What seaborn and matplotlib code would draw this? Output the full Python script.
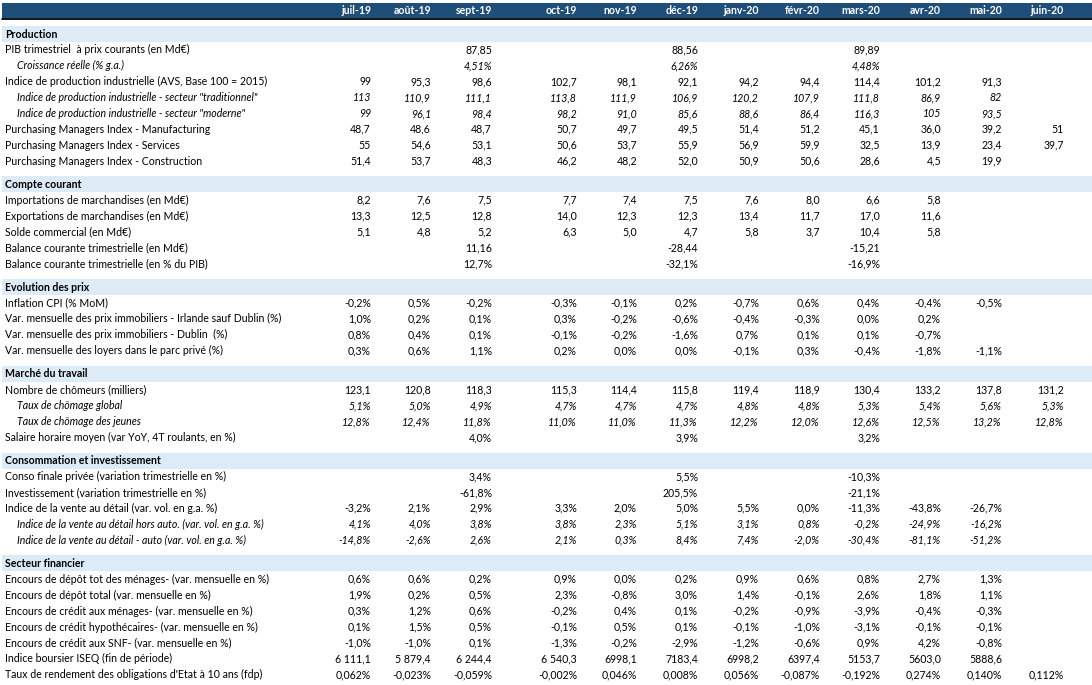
import matplotlib
matplotlib.use("Agg")
import matplotlib.pyplot as plt
from matplotlib import font_manager
import seaborn as sns

# column headers (months)
months = ["juil-19", "août-19", "sept-19", "oct-19", "nov-19", "déc-19",
          "janv-20", "févr-20", "mars-20", "avr-20", "mai-20", "juin-20"]

sections = ["Production", "Compte courant", "Evolution des prix",
            "Marché du travail", "Consommation et investissement",
            "Secteur financier"]

# --- Production
production_labels = [
    "PIB trimestriel  à prix courants (en Md€)",
    "Croissance réelle (% g.a.)",
    "Indice de production industrielle (AVS, Base 100 = 2015)",
    "Indice de production industrielle - secteur \"traditionnel\"",
    "Indice de production industrielle - secteur \"moderne\"",
    "Purchasing Managers Index - Manufacturing",
    "Purchasing Managers Index - Services",
    "Purchasing Managers Index - Construction",
]
production_italic = [False, True, False, True, True, False, False, False]
production_values = [
    ["", "", "87,85", "", "", "88,56", "", "", "89,89", "", "", ""],
    ["", "", "4,51%", "", "", "6,26%", "", "", "4,48%", "", "", ""],
    ["99", "95,3", "98,6", "102,7", "98,1", "92,1", "94,2", "94,4", "114,4", "101,2", "91,3", ""],
    ["113", "110,9", "111,1", "113,8", "111,9", "106,9", "120,2", "107,9", "111,8", "86,9", "82", ""],
    ["99", "96,1", "98,4", "98,2", "91,0", "85,6", "88,6", "86,4", "116,3", "105", "93,5", ""],
    ["48,7", "48,6", "48,7", "50,7", "49,7", "49,5", "51,4", "51,2", "45,1", "36,0", "39,2", "51"],
    ["55", "54,6", "53,1", "50,6", "53,7", "55,9", "56,9", "59,9", "32,5", "13,9", "23,4", "39,7"],
    ["51,4", "53,7", "48,3", "46,2", "48,2", "52,0", "50,9", "50,6", "28,6", "4,5", "19,9", ""],
]

# --- Compte courant
compte_labels = [
    "Importations de marchandises (en Md€)",
    "Exportations de marchandises (en Md€)",
    "Solde commercial (en Md€)",
    "Balance courante trimestrielle (en Md€)",
    "Balance courante trimestrielle (en % du PIB)",
]
compte_italic = [False] * 5
compte_values = [
    ["8,2", "7,6", "7,5", "7,7", "7,4", "7,5", "7,6", "8,0", "6,6", "5,8", "", ""],
    ["13,3", "12,5", "12,8", "14,0", "12,3", "12,3", "13,4", "11,7", "17,0", "11,6", "", ""],
    ["5,1", "4,8", "5,2", "6,3", "5,0", "4,7", "5,8", "3,7", "10,4", "5,8", "", ""],
    ["", "", "11,16", "", "", "-28,44", "", "", "-15,21", "", "", ""],
    ["", "", "12,7%", "", "", "-32,1%", "", "", "-16,9%", "", "", ""],
]

# --- Evolution des prix
prix_labels = [
    "Inflation CPI (% MoM)",
    "Var. mensuelle des prix immobiliers - Irlande sauf Dublin (%)",
    "Var. mensuelle des prix immobiliers - Dublin  (%)",
    "Var. mensuelle des loyers dans le parc privé (%)",
]
prix_italic = [False] * 4
prix_values = [
    ["-0,2%", "0,5%", "-0,2%", "-0,3%", "-0,1%", "0,2%", "-0,7%", "0,6%", "0,4%", "-0,4%", "-0,5%", ""],
    ["1,0%", "0,2%", "0,1%", "0,3%", "-0,2%", "-0,6%", "-0,4%", "-0,3%", "0,0%", "0,2%", "", ""],
    ["0,8%", "0,4%", "0,1%", "-0,1%", "-0,2%", "-1,6%", "0,7%", "0,1%", "0,1%", "-0,7%", "", ""],
    ["0,3%", "0,6%", "1,1%", "0,2%", "0,0%", "0,0%", "-0,1%", "0,3%", "-0,4%", "-1,8%", "-1,1%", ""],
]

# --- Marché du travail
travail_labels = [
    "Nombre de chômeurs (milliers)",
    "Taux de chômage global",
    "Taux de chômage des jeunes",
    "Salaire horaire moyen (var YoY, 4T roulants, en %)",
]
travail_italic = [False, True, True, False]
travail_values = [
    ["123,1", "120,8", "118,3", "115,3", "114,4", "115,8", "119,4", "118,9", "130,4", "133,2", "137,8", "131,2"],
    ["5,1%", "5,0%", "4,9%", "4,7%", "4,7%", "4,7%", "4,8%", "4,8%", "5,3%", "5,4%", "5,6%", "5,3%"],
    ["12,8%", "12,4%", "11,8%", "11,0%", "11,0%", "11,3%", "12,2%", "12,0%", "12,6%", "12,5%", "13,2%", "12,8%"],
    ["", "", "4,0%", "", "", "3,9%", "", "", "3,2%", "", "", ""],
]

# --- Consommation et investissement
conso_labels = [
    "Conso finale privée (variation trimestrielle en %)",
    "Investissement (variation trimestrielle en %)",
    "Indice de la vente au détail (var. vol. en g.a. %)",
    "Indice de la vente au détail hors auto. (var. vol. en g.a. %)",
    "Indice de la vente au détail - auto (var. vol. en g.a. %)",
]
conso_italic = [False, False, False, True, True]
conso_values = [
    ["", "", "3,4%", "", "", "5,5%", "", "", "-10,3%", "", "", ""],
    ["", "", "-61,8%", "", "", "205,5%", "", "", "-21,1%", "", "", ""],
    ["-3,2%", "2,1%", "2,9%", "3,3%", "2,0%", "5,0%", "5,5%", "0,0%", "-11,3%", "-43,8%", "-26,7%", ""],
    ["4,1%", "4,0%", "3,8%", "3,8%", "2,3%", "5,1%", "3,1%", "0,8%", "-0,2%", "-24,9%", "-16,2%", ""],
    ["-14,8%", "-2,6%", "2,6%", "2,1%", "0,3%", "8,4%", "7,4%", "-2,0%", "-30,4%", "-81,1%", "-51,2%", ""],
]

# --- Secteur financier
finance_labels = [
    "Encours de dépôt tot des ménages- (var. mensuelle en %)",
    "Encours de dépôt total (var. mensuelle en %)",
    "Encours de crédit aux ménages- (var. mensuelle en %)",
    "Encours de crédit hypothécaires- (var. mensuelle en %)",
    "Encours de crédit aux SNF- (var. mensuelle en %)",
    "Indice boursier ISEQ (fin de période)",
    "Taux de rendement des obligations d'Etat à 10 ans (fdp)",
]
finance_italic = [False] * 7
finance_values = [
    ["0,6%", "0,6%", "0,2%", "0,9%", "0,0%", "0,2%", "0,9%", "0,6%", "0,8%", "2,7%", "1,3%", ""],
    ["1,9%", "0,2%", "0,5%", "2,3%", "-0,8%", "3,0%", "1,4%", "-0,1%", "2,6%", "1,8%", "1,1%", ""],
    ["0,3%", "1,2%", "0,6%", "-0,2%", "0,4%", "0,1%", "-0,2%", "-0,9%", "-3,9%", "-0,4%", "-0,3%", ""],
    ["0,1%", "1,5%", "0,5%", "-0,1%", "0,5%", "0,1%", "-0,1%", "-1,0%", "-3,1%", "-0,1%", "-0,1%", ""],
    ["-1,0%", "-1,0%", "0,1%", "-1,3%", "-0,2%", "-2,9%", "-1,2%", "-0,6%", "0,9%", "4,2%", "-0,8%", ""],
    ["6 111,1", "5 879,4", "6 244,4", "6 540,3", "6998,1", "7183,4", "6998,2", "6397,4", "5153,7", "5603,0", "5888,6", ""],
    ["0,062%", "-0,023%", "-0,059%", "-0,002%", "0,046%", "0,008%", "0,056%", "-0,087%", "-0,192%", "0,274%", "0,140%", "0,112%"],
]

blocks = [
    (production_labels, production_italic, production_values),
    (compte_labels, compte_italic, compte_values),
    (prix_labels, prix_italic, prix_values),
    (travail_labels, travail_italic, travail_values),
    (conso_labels, conso_italic, conso_values),
    (finance_labels, finance_italic, finance_values),
]

# layout (pixels)
col_right = [371, 431, 492, 577, 637, 698, 759, 820, 880, 941, 1002, 1064]
row_h = 15.9
sec_gap = 7.3
header_color = "#1F4E79"
band_color = "#DDEBF7"

sns.set_theme(style="white")
available = {f.name for f in font_manager.fontManager.ttflist}
family = "DejaVu Sans"
for cand in ["Liberation Sans Narrow", "DejaVu Sans Condensed", "Lato"]:
    if cand in available:
        family = cand
        break
plt.rcParams["font.family"] = [family, "DejaVu Sans"]
fs = 8.0 if family != "Lato" else 7.6

fig = plt.figure(figsize=(10.92, 6.85), dpi=100)
ax = fig.add_axes([0, 0, 1, 1])
ax.set_xlim(0, 1092)
ax.set_ylim(685, 0)
ax.axis("off")

# header band
ax.axhspan(3, 17.5, xmin=2 / 1092, xmax=1, color=header_color, lw=0)
ax.plot([2, 1092], [18.5, 18.5], color="black", lw=1.3)
for m, xr in zip(months, col_right):
    ax.text(xr, 10.5, m, ha="right", va="center", color="white",
            fontsize=fs, fontweight="bold")

y = 34
for sec, (labels, italic, values) in zip(sections, blocks):
    ax.axhspan(y - 8, y + 8, xmin=2 / 1092, xmax=1, color=band_color, lw=0)
    ax.text(5, y, sec, ha="left", va="center", fontsize=fs,
            fontweight="bold", color="black")
    for lab, it, vals in zip(labels, italic, values):
        y += row_h
        style = "italic" if it else "normal"
        ax.text(17 if it else 5, y, lab, ha="left", va="center",
                fontsize=fs, style=style, color="black")
        for v, xr in zip(vals, col_right):
            if v:
                ax.text(xr, y, v, ha="right", va="center", fontsize=fs,
                        style=style, color="black")
    y += row_h + sec_gap

fig.savefig("out.png", dpi=100)
